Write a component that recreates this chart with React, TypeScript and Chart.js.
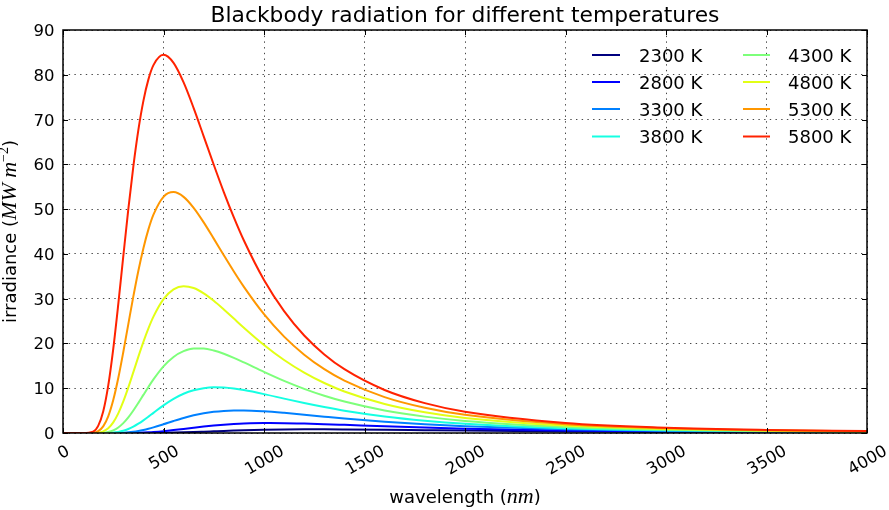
import React, { useEffect, useRef } from "react";
import { Chart, registerables } from "chart.js";

Chart.register(...registerables);

// ---- data (wavelength in nm, irradiance in MW m^-2 per µm) ----
const wavelengths = [0, 100, 150, 175, 200, 225, 250, 275, 300, 325, 350, 375, 400, 425, 450, 500, 550, 600, 650, 700, 750, 800, 850, 900, 1000, 1100, 1200, 1300, 1400, 1600, 1800, 2000, 2500, 3000, 3500, 4000];

const t2300 = [0, 0, 0, 0, 0, 0, 0, 0, 0, 0, 0.001, 0.003, 0.006, 0.011, 0.019, 0.044, 0.085, 0.143, 0.213, 0.293, 0.376, 0.459, 0.537, 0.608, 0.72, 0.79, 0.823, 0.826, 0.807, 0.73, 0.632, 0.536, 0.342, 0.219, 0.143, 0.097];
const t2800 = [0, 0, 0, 0, 0, 0, 0, 0.001, 0.006, 0.014, 0.03, 0.057, 0.096, 0.151, 0.223, 0.412, 0.651, 0.918, 1.189, 1.445, 1.67, 1.857, 2.002, 2.107, 2.208, 2.195, 2.106, 1.973, 1.818, 1.498, 1.21, 0.97, 0.563, 0.339, 0.213, 0.14];
const t3300 = [0, 0, 0, 0, 0, 0.003, 0.01, 0.031, 0.075, 0.154, 0.277, 0.45, 0.675, 0.946, 1.257, 1.956, 2.683, 3.363, 3.944, 4.399, 4.725, 4.927, 5.022, 5.028, 4.843, 4.499, 4.082, 3.65, 3.233, 2.503, 1.928, 1.49, 0.812, 0.47, 0.288, 0.185];
const t3800 = [0, 0, 0, 0.001, 0.007, 0.032, 0.101, 0.249, 0.509, 0.9, 1.427, 2.08, 2.831, 3.648, 4.497, 6.162, 7.62, 8.76, 9.55, 10.01, 10.19, 10.14, 9.92, 9.579, 8.683, 7.68, 6.696, 5.791, 4.988, 3.694, 2.752, 2.073, 1.08, 0.608, 0.365, 0.232];
const t4300 = [0, 0, 0.001, 0.011, 0.063, 0.226, 0.59, 1.237, 2.206, 3.487, 5.022, 6.728, 8.512, 10.28, 11.97, 14.88, 16.99, 18.28, 18.86, 18.85, 18.42, 17.7, 16.79, 15.77, 13.66, 11.65, 9.858, 8.318, 7.018, 5.03, 3.656, 2.702, 1.362, 0.751, 0.445, 0.279];
const t4800 = [0, 0, 0.01, 0.083, 0.362, 1.063, 2.378, 4.392, 7.05, 10.19, 13.6, 17.05, 20.35, 23.36, 25.98, 29.9, 32.08, 32.78, 32.37, 31.18, 29.52, 27.59, 25.55, 23.51, 19.66, 16.3, 13.48, 11.16, 9.266, 6.476, 4.619, 3.364, 1.654, 0.897, 0.526, 0.328];
const t5300 = [0, 0, 0.068, 0.418, 1.489, 3.735, 7.37, 12.28, 18.1, 24.33, 30.51, 36.25, 41.28, 45.48, 48.76, 52.75, 53.8, 52.74, 50.28, 47.04, 43.41, 39.7, 36.07, 32.64, 26.54, 21.52, 17.48, 14.25, 11.69, 8.009, 5.628, 4.052, 1.953, 1.046, 0.608, 0.376];
const t5800 = [0, 0.001, 0.324, 1.591, 4.799, 10.57, 18.79, 28.76, 39.48, 50.0, 59.56, 67.7, 74.18, 78.97, 82.15, 84.45, 82.65, 78.29, 72.56, 66.26, 59.91, 53.81, 48.15, 42.98, 34.17, 27.22, 21.78, 17.55, 14.25, 9.61, 6.672, 4.759, 2.257, 1.197, 0.691, 0.425];

const temperatureLabels = ["2300 K", "2800 K", "3300 K", "3800 K", "4300 K", "4800 K", "5300 K", "5800 K"];
const series = [t2300, t2800, t3300, t3800, t4300, t4800, t5300, t5800];
const lineColors = ["#00007f", "#0000ff", "#0080ff", "#15ffe2", "#7dff7a", "#e2ff15", "#ff9700", "#ff2200"];

const xTicks = [0, 500, 1000, 1500, 2000, 2500, 3000, 3500, 4000];
const yTicks = [0, 10, 20, 30, 40, 50, 60, 70, 80, 90];

const titleText = "Blackbody radiation for different temperatures";

const SANS = "'DejaVu Sans', sans-serif";
const MATH = "'Liberation Serif', serif";

type Seg = { t: string; font: string; dy?: number };

function segsWidth(ctx: CanvasRenderingContext2D, segs: Seg[]) {
  let w = 0;
  for (const s of segs) {
    ctx.font = s.font;
    w += ctx.measureText(s.t).width;
  }
  return w;
}

function drawSegs(ctx: CanvasRenderingContext2D, segs: Seg[], x: number, y: number) {
  let cx = x;
  for (const s of segs) {
    ctx.font = s.font;
    ctx.fillText(s.t, cx, y + (s.dy || 0));
    cx += ctx.measureText(s.t).width;
  }
}

const mplPlugin = {
  id: "mplDecor",
  afterDraw(chart: any) {
    const { ctx, chartArea: a, scales } = chart;
    const xs = scales.x;
    const ys = scales.y;
    ctx.save();

    // frame
    ctx.strokeStyle = "#000";
    ctx.lineWidth = 1.5;
    ctx.setLineDash([]);
    ctx.strokeRect(a.left, a.top, a.right - a.left, a.bottom - a.top);

    // inward ticks on all sides
    ctx.lineWidth = 1;
    ctx.beginPath();
    for (const v of xTicks) {
      const px = Math.round(xs.getPixelForValue(v)) + 0.5;
      ctx.moveTo(px, a.bottom);
      ctx.lineTo(px, a.bottom - 5);
      ctx.moveTo(px, a.top);
      ctx.lineTo(px, a.top + 5);
    }
    for (const v of yTicks) {
      const py = Math.round(ys.getPixelForValue(v)) + 0.5;
      ctx.moveTo(a.left, py);
      ctx.lineTo(a.left + 5, py);
      ctx.moveTo(a.right, py);
      ctx.lineTo(a.right - 5, py);
    }
    ctx.stroke();

    ctx.fillStyle = "#000";
    const tickFont = `16.5px ${SANS}`;
    const cap = 0.73 * 16.5;

    // y tick labels
    ctx.font = tickFont;
    ctx.textAlign = "right";
    ctx.textBaseline = "alphabetic";
    for (const v of yTicks) {
      const py = ys.getPixelForValue(v);
      ctx.fillText(String(v), a.left - 8.5, py + cap / 2);
    }

    // x tick labels, rotated 30 degrees, centred on the tick
    ctx.textAlign = "left";
    const ang = Math.PI / 6;
    for (const v of xTicks) {
      const px = xs.getPixelForValue(v);
      const label = String(v);
      const w = ctx.measureText(label).width;
      const halfH = (w * Math.sin(ang) + cap * Math.cos(ang)) / 2;
      const cy = a.bottom + 10.5 + halfH;
      ctx.save();
      ctx.translate(px, cy);
      ctx.rotate(-ang);
      ctx.fillText(label, -w / 2, cap / 2);
      ctx.restore();
    }

    // title
    ctx.font = `21.8px ${SANS}`;
    ctx.textAlign = "center";
    ctx.fillText(titleText, (a.left + a.right) / 2, 22);

    // x axis label
    ctx.textAlign = "left";
    const xl: Seg[] = [
      { t: "wavelength (", font: `18px ${SANS}` },
      { t: "nm", font: `italic 22px ${MATH}` },
      { t: ")", font: `18px ${SANS}` },
    ];
    const xw = segsWidth(ctx, xl);
    drawSegs(ctx, xl, (a.left + a.right) / 2 - xw / 2, 503);

    // y axis label
    const yl: Seg[] = [
      { t: "irradiance (", font: `18px ${SANS}` },
      { t: "MW m", font: `italic 22px ${MATH}` },
      { t: "\u22122", font: `14px ${MATH}`, dy: -8 },
      { t: ")", font: `18px ${SANS}` },
    ];
    const yw = segsWidth(ctx, yl);
    ctx.save();
    ctx.translate(15.5, (a.top + a.bottom) / 2);
    ctx.rotate(-Math.PI / 2);
    drawSegs(ctx, yl, -yw / 2, 0);
    ctx.restore();

    // legend (two columns, no frame)
    const rowY = [55, 82, 109, 136.5];
    const cols = [
      { x0: 592, x1: 620, tx: 639 },
      { x0: 743, x1: 770, tx: 788 },
    ];
    ctx.font = `18px ${SANS}`;
    ctx.textAlign = "left";
    chart.data.datasets.forEach((ds: any, i: number) => {
      const c = cols[Math.floor(i / 4)];
      const y = rowY[i % 4];
      ctx.strokeStyle = ds.borderColor;
      ctx.lineWidth = 2;
      ctx.beginPath();
      ctx.moveTo(c.x0, y);
      ctx.lineTo(c.x1, y);
      ctx.stroke();
      ctx.fillStyle = "#000";
      ctx.fillText(ds.label, c.tx, y + (0.73 * 18) / 2);
    });

    ctx.restore();
  },
};

export default function App() {
  const canvasRef = useRef<HTMLCanvasElement | null>(null);

  useEffect(() => {
    const canvas = canvasRef.current;
    if (!canvas) return;
    const datasets = series.map((vals, i) => ({
      label: temperatureLabels[i],
      data: wavelengths.map((w, j) => ({ x: w, y: vals[j] })),
      borderColor: lineColors[i],
      backgroundColor: lineColors[i],
      borderWidth: 2,
      pointRadius: 0,
      fill: false,
      cubicInterpolationMode: "monotone" as const,
      order: series.length - 1 - i,
    }));

    const gridCommon = {
      color: "rgba(0,0,0,0.72)",
      lineWidth: 1,
      drawTicks: false,
    };

    const chart = new Chart(canvas, {
      type: "line",
      data: { datasets },
      options: {
        responsive: false,
        animation: false,
        events: [],
        layout: { padding: { left: 63, top: 30, right: 22, bottom: 77 } },
        plugins: {
          legend: { display: false },
          title: { display: false },
          tooltip: { enabled: false },
        },
        scales: {
          x: {
            type: "linear",
            min: 0,
            max: 4000,
            ticks: { display: false, stepSize: 500 },
            grid: gridCommon,
            border: { display: false, dash: [1.4, 4.3] },
            afterFit: (s: any) => {
              s.height = 0;
            },
          },
          y: {
            type: "linear",
            min: 0,
            max: 90,
            ticks: { display: false, stepSize: 10 },
            grid: gridCommon,
            border: { display: false, dash: [1.4, 4.3] },
            afterFit: (s: any) => {
              s.width = 0;
            },
          },
        },
      },
      plugins: [mplPlugin],
    });
    return () => chart.destroy();
  }, []);

  return (
    <div style={{ position: "absolute", left: 0, top: 0, width: 889, height: 510, background: "#fff" }}>
      <canvas ref={canvasRef} width={889} height={510} style={{ display: "block" }} />
    </div>
  );
}
